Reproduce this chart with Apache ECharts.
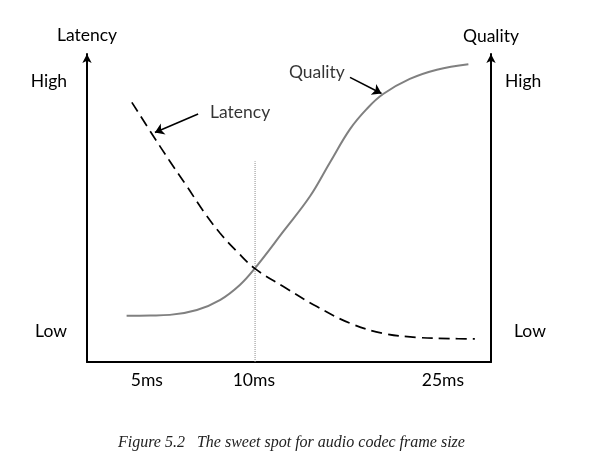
<!DOCTYPE html>
<html>
<head>
<meta charset="utf-8">
<script src="https://cdn.jsdelivr.net/npm/echarts@6/dist/echarts.min.js"></script>
<style>
html,body{margin:0;padding:0;background:#fff;}
#chart{width:609px;height:454px;}
</style>
</head>
<body>
<div id="chart"></div>
<script>
// ---- data (schematic units 0..100 on both axes) ----
const xTickPositions = [14.8, 41.3, 88.1];
const xTickLabels = ['5ms', '10ms', '25ms'];
const yTickPositions = [9.8, 91.2];
const yTickLabels = ['Low', 'High'];

const qualityX = [9.8, 15.6, 20.5, 27.2, 33.0, 37.9, 41.6, 48.6, 55.2, 60.1, 65.1, 69.2, 73.3, 79.9, 86.6, 94.4];
const qualityY = [15.0, 15.1, 15.3, 16.9, 20.2, 25.1, 30.5, 42.4, 53.8, 64.7, 75.6, 82.1, 87.0, 91.9, 94.9, 96.7];

const latencyX = [11.1, 16.4, 20.5, 24.7, 28.8, 32.9, 37.1, 41.6, 48.6, 56.9, 65.1, 73.3, 81.6, 89.9, 96.0];
const latencyY = [84.3, 73.4, 65.2, 57.1, 49.0, 41.9, 35.9, 30.3, 24.5, 18.0, 12.6, 9.3, 8.0, 7.6, 7.5];

const sweetSpotX = 41.6;
const sweetSpotTop = 65.2;

const annotationNames = ['Latency', 'Quality'];
const annotationLabelPos = [[37.9, 81.2], [56.9, 94.0]];
const annotationArrowFrom = [[27.5, 80.5], [65.1, 92.4]];
const annotationArrowTo = [[16.8, 74.5], [72.9, 87.2]];

const caption = 'Figure 5.2   The sweet spot for audio codec frame size';

// ---- chart ----
const zip = (a, b) => a.map((v, i) => [v, b[i]]);
const FONT = 'Lato';
const FS = 17.5;

const chart = echarts.init(document.getElementById('chart'), null, {renderer: 'canvas'});

const yAxisBase = (pos, name, leftSide) => ({
  type: 'value', position: pos, min: 0, max: 100,
  name: name, nameLocation: 'end', nameGap: leftSide ? 10 : 9,
  nameTextStyle: {color: '#000', fontFamily: FONT, fontSize: FS, align: 'center', verticalAlign: 'bottom'},
  axisLine: {show: true, onZero: false, lineStyle: {color: '#000', width: 2}, symbol: ['none', 'arrow'], symbolSize: [7, 9]},
  axisTick: {show: false},
  splitLine: {show: false},
  axisLabel: {
    show: true,
    customValues: yTickPositions,
    margin: leftSide ? 20 : 14,
    color: '#000', fontFamily: FONT, fontSize: FS,
    formatter: function (v) {
      const i = yTickPositions.indexOf(v);
      const t = i >= 0 ? yTickLabels[i] : '';
      if (!leftSide && t === 'Low') return '{low|' + t + '}';
      return t;
    },
    rich: {low: {color: '#000', fontFamily: FONT, fontSize: FS, padding: [0, 0, 0, 9]}}
  }
});

chart.setOption({
  animation: false,
  backgroundColor: '#fff',
  title: {
    text: caption,
    left: 113, top: 430,
    textStyle: {fontFamily: 'Liberation Serif', fontStyle: 'italic', fontWeight: 'normal', fontSize: 16, color: '#222'}
  },
  grid: {left: 87, right: 118, top: 54, bottom: 92, containLabel: false, outerBoundsMode: 'none'},
  xAxis: {
    type: 'value', min: 0, max: 100,
    axisLine: {show: true, onZero: false, lineStyle: {color: '#000', width: 2}},
    axisTick: {show: false},
    splitLine: {show: false},
    axisLabel: {
      show: true, customValues: xTickPositions, margin: 9,
      color: '#000', fontFamily: FONT, fontSize: FS,
      formatter: function (v) {
        const i = xTickPositions.indexOf(v);
        return i >= 0 ? xTickLabels[i] : '';
      }
    }
  },
  yAxis: [yAxisBase('left', 'Latency', true), yAxisBase('right', 'Quality', false)],
  series: [
    {
      type: 'line', data: [[sweetSpotX, 0], [sweetSpotX, sweetSpotTop]],
      symbol: 'none', silent: true,
      lineStyle: {color: '#8c8c8c', width: 1, type: [1, 1]}
    },
    {
      type: 'line', name: 'Quality', data: zip(qualityX, qualityY),
      smooth: 0.4, symbol: 'none',
      lineStyle: {color: '#808080', width: 2}
    },
    {
      type: 'line', name: 'Latency', data: zip(latencyX, latencyY),
      smooth: 0.4, symbol: 'none',
      lineStyle: {color: '#000', width: 1.7, type: [11, 6]}
    },
    {
      type: 'lines', coordinateSystem: 'cartesian2d',
      symbol: ['none', 'arrow'], symbolSize: 9,
      lineStyle: {color: '#000', width: 1.6, opacity: 1},
      data: annotationArrowFrom.map((f, i) => ({coords: [f, annotationArrowTo[i]]}))
    },
    {
      type: 'scatter', symbolSize: 0,
      data: annotationNames.map((n, i) => ({name: n, value: annotationLabelPos[i]})),
      label: {show: true, position: 'inside', formatter: '{b}', color: '#000', fontFamily: FONT, fontSize: FS}
    }
  ]
});
</script>
</body>
</html>
